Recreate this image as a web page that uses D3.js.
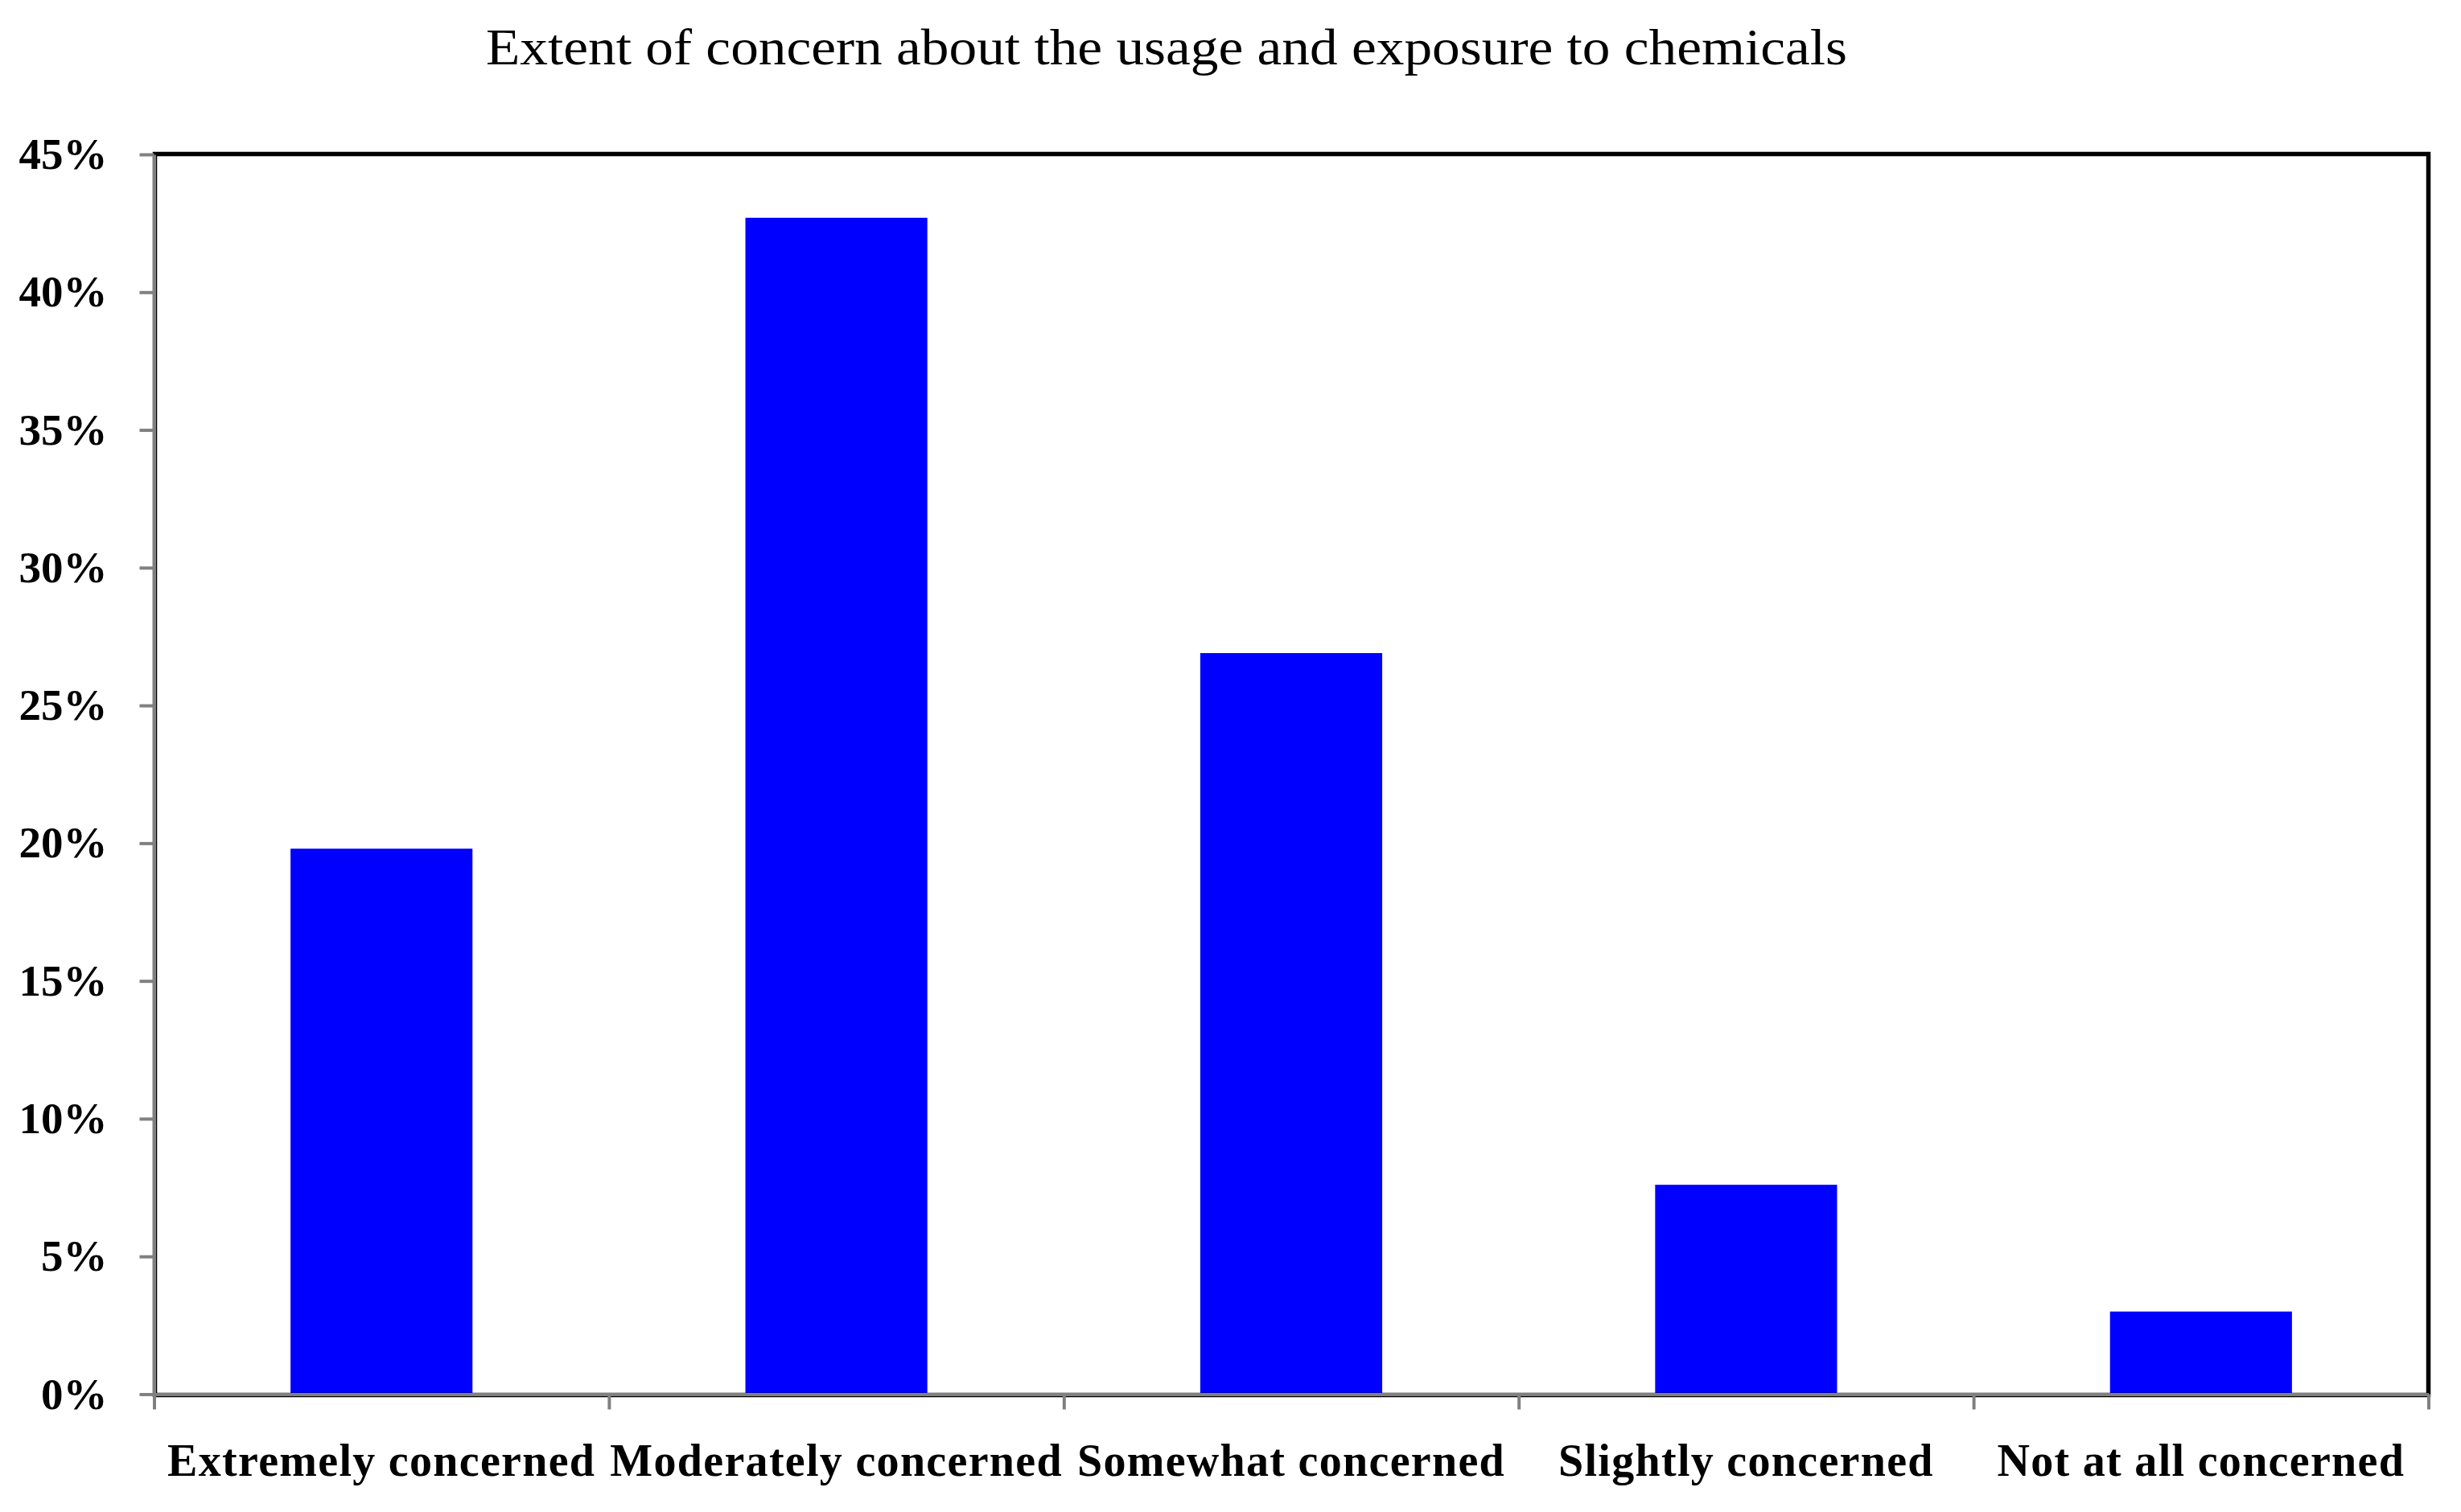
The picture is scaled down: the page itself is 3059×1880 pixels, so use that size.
<!DOCTYPE html>
<html>
<head>
<meta charset="utf-8">
<script src="https://cdn.jsdelivr.net/npm/d3@7/dist/d3.min.js"></script>
<style>
  html, body { margin: 0; padding: 0; background: #ffffff; }
  svg { display: block; }
</style>
</head>
<body>
<svg id="chart" width="3059" height="1880"></svg>
<script>
const titleText = "Extent of concern about the usage and exposure to chemicals";
const categories = ["Extremely concerned", "Moderately concerned", "Somewhat concerned", "Slightly concerned", "Not at all concerned"];
const values = [19.8, 42.7, 26.9, 7.6, 3.0];
const yTickValues = [0, 5, 10, 15, 20, 25, 30, 35, 40, 45];

(function () {
const svg = d3.select("#chart");
const plotLeft = 191.5, plotRight = 3018.5, plotTop = 192, plotBottom = 1733.5;

const x = d3.scaleBand().domain(categories).range([plotLeft, plotRight]).paddingInner(0.6).paddingOuter(0.3);
const xEdge = d3.scaleLinear().domain([0, categories.length]).range([plotLeft, plotRight]);
const y = d3.scaleLinear().domain([0, 45]).range([plotBottom, plotTop]);

// title
svg.append("text")
  .attr("x", 1450).attr("y", 80)
  .attr("text-anchor", "middle")
  .attr("font-family", "'Liberation Serif', serif")
  .attr("font-size", 63)
  .attr("fill", "#000")
  .attr("textLength", 1692)
  .attr("lengthAdjust", "spacingAndGlyphs")
  .text(titleText);

// bars
svg.append("g").selectAll("rect")
  .data(values)
  .join("rect")
  .attr("x", (d, i) => x(categories[i]))
  .attr("width", x.bandwidth())
  .attr("y", d => y(d))
  .attr("height", d => y(0) - y(d))
  .attr("fill", "#0000ff");

// frame
svg.append("rect")
  .attr("x", plotLeft + 1).attr("y", plotTop - 0.5)
  .attr("width", plotRight - plotLeft - 1).attr("height", plotBottom - plotTop + 1.5)
  .attr("fill", "none").attr("stroke", "#000").attr("stroke-width", 5.5);

// y axis
const yAxis = svg.append("g")
  .attr("transform", `translate(${plotLeft},0)`)
  .call(d3.axisLeft(y).tickValues(yTickValues).tickFormat(d => d + "%").tickSize(18).tickPadding(40).tickSizeOuter(0));
yAxis.select(".domain").attr("stroke", "#808080").attr("stroke-width", 4);
yAxis.selectAll(".tick line").attr("stroke", "#808080").attr("stroke-width", 4);
yAxis.selectAll(".tick text")
  .attr("font-family", "'Liberation Serif', serif")
  .attr("font-weight", "bold")
  .attr("font-size", 55)
  .attr("fill", "#000");

// x axis boundary ticks
const xTicks = svg.append("g")
  .attr("transform", `translate(0,${plotBottom})`)
  .call(d3.axisBottom(xEdge).tickValues(d3.range(categories.length + 1)).tickFormat("").tickSize(19).tickSizeOuter(0));
xTicks.select(".domain").attr("stroke", "#808080").attr("stroke-width", 4);
xTicks.selectAll(".tick line").attr("stroke", "#808080").attr("stroke-width", 4);

// x axis category labels
const xLabels = svg.append("g")
  .attr("transform", `translate(0,${plotBottom})`)
  .call(d3.axisBottom(x).tickSize(0).tickPadding(62));
xLabels.select(".domain").remove();
xLabels.selectAll(".tick text")
  .attr("font-family", "'Liberation Serif', serif")
  .attr("font-weight", "bold")
  .attr("font-size", 56)
  .attr("letter-spacing", 1.3)
  .attr("fill", "#000");
})();
</script>
</body>
</html>
